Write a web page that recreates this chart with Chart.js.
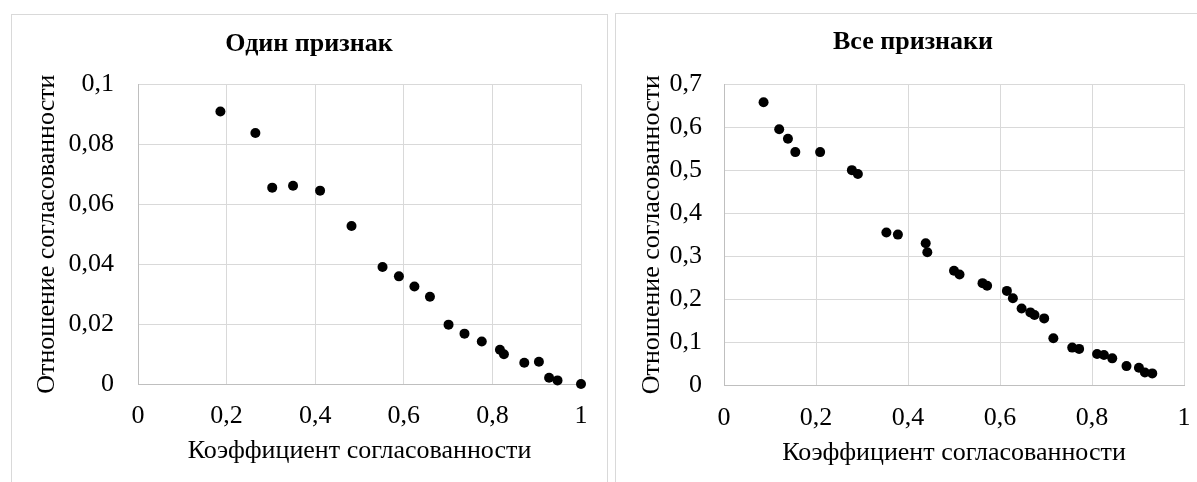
<!DOCTYPE html>
<html>
<head>
<meta charset="utf-8">
<script src="https://cdn.jsdelivr.net/npm/chart.js@4"></script>
<style>
  html, body { margin: 0; padding: 0; background: #fff; overflow: hidden; }
  body { width: 1197px; height: 482px; position: relative; }
  .panel { position: absolute; border: 1px solid #d9d9d9; box-sizing: border-box; }
  canvas { position: absolute; }
</style>
</head>
<body>
<div class="panel" style="left:11px; top:14px; width:597px; height:500px;"></div>
<div class="panel" style="left:615px; top:13px; width:597px; height:500px;"></div>
<canvas id="one" width="596" height="468" style="left:11px; top:14px;"></canvas>
<canvas id="all" width="596" height="469" style="left:615px; top:13px;"></canvas>
<script>
// values
const oneX = [0.186, 0.265, 0.303, 0.350, 0.411, 0.482, 0.552, 0.589, 0.624, 0.659,
              0.701, 0.737, 0.776, 0.817, 0.826, 0.872, 0.905, 0.928, 0.947, 1.0];
const oneY = [0.0909, 0.0837, 0.0655, 0.0661, 0.0645, 0.0527, 0.0390, 0.0359, 0.0325, 0.0291,
              0.0198, 0.0168, 0.0142, 0.0114, 0.0099, 0.0071, 0.0074, 0.0021, 0.0012, 0.0];

const allX = [0.086, 0.120, 0.139, 0.155, 0.209, 0.278, 0.291, 0.353, 0.378, 0.4385,
              0.442, 0.500, 0.512, 0.562, 0.572, 0.615, 0.628, 0.647, 0.666, 0.675,
              0.696, 0.716, 0.757, 0.772, 0.811, 0.826, 0.844, 0.875, 0.902, 0.915, 0.931];
const allY = [0.658, 0.595, 0.573, 0.542, 0.542, 0.500, 0.491, 0.355, 0.350, 0.330,
              0.309, 0.266, 0.257, 0.237, 0.231, 0.219, 0.202, 0.178, 0.169, 0.163,
              0.155, 0.109, 0.087, 0.084, 0.072, 0.070, 0.062, 0.044, 0.040, 0.029, 0.027];

const xTickLabels = ['0', '0,2', '0,4', '0,6', '0,8', '1'];
const oneYTickLabels = ['0', '0,02', '0,04', '0,06', '0,08', '0,1'];
const allYTickLabels = ['0', '0,1', '0,2', '0,3', '0,4', '0,5', '0,6', '0,7'];

const SERIF = "'Liberation Serif', 'Times New Roman', serif";
const GRID = '#d9d9d9';
const FS = 26;

function toPoints(xs, ys) {
  return xs.map((x, i) => ({ x, y: ys[i] }));
}

function drawScatter(canvas, cfg) {
  return new Chart(canvas, {
    type: 'scatter',
    data: {
      datasets: [{
        data: toPoints(cfg.xs, cfg.ys),
        backgroundColor: '#000',
        borderWidth: 0,
        pointRadius: 5,
        pointHoverRadius: 5,
        clip: false
      }]
    },
    options: {
      responsive: false,
      devicePixelRatio: 1,
      animation: false,
      plugins: {
        legend: { display: false },
        tooltip: { enabled: false },
        title: {
          display: true,
          text: cfg.title,
          color: '#000',
          font: { family: SERIF, size: FS, weight: 'bold' },
          padding: { top: cfg.titleTop, bottom: cfg.titleBottom }
        }
      },
      scales: {
        x: {
          type: 'linear',
          min: 0, max: 1,
          afterFit: (s) => { s.height = cfg.xAxisHeight; },
          grid: { color: GRID, lineWidth: 1, drawTicks: false },
          border: { color: '#bfbfbf', width: 1 },
          ticks: {
            stepSize: 0.2,
            padding: cfg.xTickPad,
            color: '#000',
            font: { family: SERIF, size: FS },
            maxRotation: 0,
            callback: (v) => xTickLabels[Math.round(v / 0.2)]
          },
          title: {
            display: true,
            text: 'Коэффициент согласованности',
            color: '#000',
            font: { family: SERIF, size: FS },
            padding: { top: 0, bottom: cfg.xTitlePad }
          }
        },
        y: {
          min: 0, max: cfg.yMax,
          afterFit: (s) => { s.width = cfg.yAxisWidth; },
          grid: { color: GRID, lineWidth: 1, drawTicks: false },
          border: { color: '#bfbfbf', width: 1 },
          ticks: {
            stepSize: cfg.yStep,
            padding: cfg.yTickPad,
            color: '#000',
            font: { family: SERIF, size: FS },
            callback: (v) => cfg.yLabels[Math.round(v / cfg.yStep)]
          },
          title: {
            display: true,
            text: 'Отношение согласованности',
            color: '#000',
            font: { family: SERIF, size: FS },
            padding: { top: cfg.yTitlePad, bottom: 0 }
          }
        },
        // empty strip on the right so the title stays centred on the whole panel
        gap: {
          type: 'linear',
          position: 'right',
          min: 0, max: 1,
          afterFit: (s) => { s.width = cfg.rightGap; },
          grid: { display: false },
          border: { display: false },
          ticks: { display: false }
        }
      }
    }
  });
}

drawScatter(document.getElementById('one'), {
  title: 'Один признак',
  xs: oneX, ys: oneY,
  yMax: 0.1, yStep: 0.02, yLabels: oneYTickLabels,
  rightGap: 26, titleTop: 15, titleBottom: 24,
  xAxisHeight: 98, yAxisWidth: 127,
  xTickPad: 17, xTitlePad: 15, yTickPad: 24, yTitlePad: 21
});

drawScatter(document.getElementById('all'), {
  title: 'Все признаки',
  xs: allX, ys: allY,
  yMax: 0.7, yStep: 0.1, yLabels: allYTickLabels,
  rightGap: 27, titleTop: 14, titleBottom: 26,
  xAxisHeight: 97, yAxisWidth: 109,
  xTickPad: 18, xTitlePad: 13, yTickPad: 22, yTitlePad: 22
});
</script>
</body>
</html>
